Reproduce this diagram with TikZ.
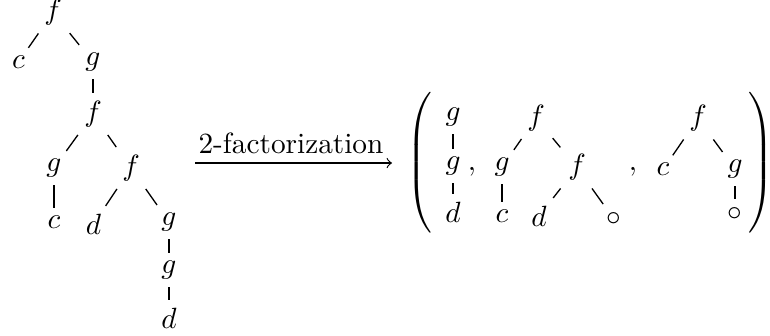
\documentclass[tikz,border=0pt]{standalone}
\begin{document}
\begin{tikzpicture}[x=0.3413pt,y=-0.3413pt,
  lbl/.style={inner sep=2.5pt},
  ln/.style={line width=0.45pt},
  par/.style={inner sep=0pt}]
\useasboundingbox (0,0) rectangle (770,335);
% left tree
\node[lbl] (a1) at (53,12.5) {$f$};
\node[lbl] (a2) at (18.5,62) {$c$};
\node[lbl] (a3) at (93,62) {$g$};
\node[lbl] (a4) at (93,114) {$f$};
\node[lbl] (a5) at (54,168) {$g$};
\node[lbl] (a6) at (131,168) {$f$};
\node[lbl] (a7) at (54,222) {$c$};
\node[lbl] (a8) at (93.5,224) {$d$};
\node[lbl] (a9) at (169,222) {$g$};
\node[lbl] (a10) at (169,270) {$g$};
\node[lbl] (a11) at (169,318) {$d$};
\draw[ln] (a1) -- (a2);
\draw[ln] (a1) -- (a3);
\draw[ln] (a3) -- (a4);
\draw[ln] (a4) -- (a5);
\draw[ln] (a4) -- (a6);
\draw[ln] (a5) -- (a7);
\draw[ln] (a6) -- (a8);
\draw[ln] (a6) -- (a9);
\draw[ln] (a9) -- (a10);
\draw[ln] (a10) -- (a11);
% arrow
\coordinate (s) at (195,163);
\coordinate (t) at (392,163);
\draw[line width=0.4pt,->] (s) -- (t);
\node[anchor=base,inner sep=0pt] (lab) at (291,153) {2-factorization};
% parentheses
\node[par,anchor=west] (lp) at (406,162.5) {$\left(\rule[-22.5pt]{0pt}{50pt}\right.$};
\node[par,anchor=east] (rp) at (775,162.5) {$\left.\rule[-22.5pt]{0pt}{50pt}\right)$};
% tuple element 1
\node[lbl] (b1) at (453,117) {$g$};
\node[lbl] (b2) at (453,166) {$g$};
\node[lbl] (b3) at (453,212) {$d$};
\draw[ln] (b1) -- (b2);
\draw[ln] (b2) -- (b3);
\node[anchor=base,inner sep=0pt] (k1) at (472,170) {$,$};
% tuple element 2
\node[lbl] (c1) at (536,118) {$f$};
\node[lbl] (c2) at (502,167) {$g$};
\node[lbl] (c3) at (577,167.5) {$f$};
\node[lbl] (c4) at (502,216.5) {$c$};
\node[lbl] (c5) at (539,216) {$d$};
\node[lbl] (c6) at (613.5,218.5) {$\circ$};
\draw[ln] (c1) -- (c2);
\draw[ln] (c1) -- (c3);
\draw[ln] (c2) -- (c4);
\draw[ln] (c3) -- (c5);
\draw[ln] (c3) -- (c6);
\node[anchor=base,inner sep=0pt] (k2) at (633,170) {$,$};
% tuple element 3
\node[lbl] (d1) at (698,118.5) {$f$};
\node[lbl] (d2) at (663,169.5) {$c$};
\node[lbl] (d3) at (735,169) {$g$};
\node[lbl] (d4) at (735,213.5) {$\circ$};
\draw[ln] (d1) -- (d2);
\draw[ln] (d1) -- (d3);
\draw[ln] (d3) -- (d4);
\end{tikzpicture}
\end{document}
